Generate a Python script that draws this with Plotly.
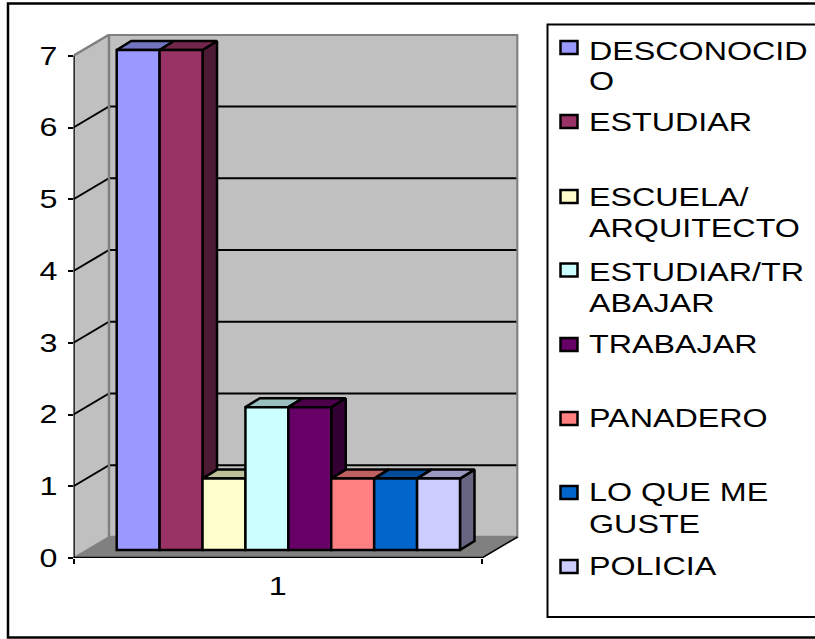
import plotly.graph_objects as go

# ---- data ----
categories = [1]
series_names = ["DESCONOCIDO", "ESTUDIAR", "ESCUELA/ ARQUITECTO", "ESTUDIAR/TRABAJAR",
                "TRABAJAR", "PANADERO", "LO QUE ME GUSTE", "POLICIA"]
series_values = [7, 7, 1, 2, 2, 1, 1, 1]
series_colors = ["#9999FF", "#993366", "#FFFFCC", "#CCFFFF", "#660066", "#FF8080", "#0066CC", "#CCCCFF"]
legend_lines = [["DESCONOCID", "O"], ["ESTUDIAR"], ["ESCUELA/", "ARQUITECTO"], ["ESTUDIAR/TR", "ABAJAR"],
                ["TRABAJAR"], ["PANADERO"], ["LO QUE ME", "GUSTE"], ["POLICIA"]]
y_ticks = [0, 1, 2, 3, 4, 5, 6, 7]

# ---- layout geometry (pixels) ----
W, H = 815, 639
LEFT, RIGHT, TOP, BOTTOM = 73.5, 518.5, 34.0, 558.0
X_SCALE = 408.5          # px per category unit
Y_SCALE = 71.75          # px per value unit, walls
BAR_Y_SCALE = 71.43      # px per value unit, bars
BAR_FLOOR = 550.0
BAR_CENTER = 288.35
WALL_DX, WALL_DY = 35.5 / X_SCALE, 21.0 / Y_SCALE
BAR_DX, BAR_DY = 14.5 / X_SCALE, 9.0 / BAR_Y_SCALE
FONT = "Liberation Sans, Arial, sans-serif"
FS = 25
GRAY, WALL, FLOOR = "#808080", "#C0C0C0", "#808080"

x_dom = [LEFT / W, RIGHT / W]
y_dom = [(H - BOTTOM) / H, (H - TOP) / H]
x_rng = [0.5, 0.5 + (RIGHT - LEFT) / X_SCALE]
y_rng = [0, (BOTTOM - TOP) / Y_SCALE]
bx0 = 1 - (BAR_CENTER - LEFT) / X_SCALE
bx_rng = [bx0, bx0 + (RIGHT - LEFT) / X_SCALE]
by_rng = [-(BOTTOM - BAR_FLOOR) / BAR_Y_SCALE, (BAR_FLOOR - TOP) / BAR_Y_SCALE]


def shade(hex_color, k):
    r, g, b = (int(hex_color[i:i + 2], 16) for i in (1, 3, 5))
    return "#%02X%02X%02X" % (round(r * k), round(g * k), round(b * k))


fig = go.Figure()
xl, xr = x_rng[0], 1.5
top = max(y_ticks)


def poly(xs, ys, fill, line="rgba(0,0,0,0)", width=0, xa="x", ya="y"):
    fig.add_trace(go.Scatter(x=xs, y=ys, mode="lines", fill="toself", fillcolor=fill,
                             line=dict(color=line, width=width), xaxis=xa, yaxis=ya,
                             hoverinfo="skip", showlegend=False))


def seg(xs, ys, color="black", width=2):
    fig.add_trace(go.Scatter(x=xs, y=ys, mode="lines", line=dict(color=color, width=width),
                             hoverinfo="skip", showlegend=False))


# walls and floor
poly([xl, xl + WALL_DX, xl + WALL_DX, xl], [0, WALL_DY, top + WALL_DY, top], WALL)
poly([xl + WALL_DX, xr + WALL_DX, xr + WALL_DX, xl + WALL_DX], [WALL_DY, WALL_DY, top + WALL_DY, top + WALL_DY], WALL)
poly([xl, xr, xr + WALL_DX, xl + WALL_DX], [0, 0, WALL_DY, WALL_DY], FLOOR)

# gridlines
for v in y_ticks[1:-1]:
    seg([xl, xl + WALL_DX, xr + WALL_DX], [v, v + WALL_DY, v + WALL_DY])

# wall edges
seg([xl, xl + WALL_DX, xr + WALL_DX, xr + WALL_DX, xl + WALL_DX, xl + WALL_DX],
    [top, top + WALL_DY, top + WALL_DY, WALL_DY, WALL_DY, top + WALL_DY], GRAY, 2.5)
seg([xr, xr + WALL_DX], [0, WALL_DY], "black", 1.5)
seg([xl, xl + WALL_DX], [0, WALL_DY], GRAY, 1.5)

# axis lines
seg([xl, xl], [0, top], "black", 2.5)
seg([xl, xr], [0, 0], "black", 2.5)

# 3D faces of the bars, left to right
n = len(series_values)
bw = (1 - 0.1596) / n
for i, (v, c) in enumerate(zip(series_values, series_colors)):
    a = 1 - (n * bw) / 2 + i * bw
    b = a + bw
    poly([b, b + BAR_DX, b + BAR_DX, b, b], [0, BAR_DY, v + BAR_DY, v, 0], shade(c, 0.5), "black", 2.5, "x2", "y2")
    poly([a, b, b + BAR_DX, a + BAR_DX, a], [v, v, v + BAR_DY, v + BAR_DY, v], shade(c, 0.75), "black", 2.5, "x2", "y2")

# front faces
for name, v, c in zip(series_names, series_values, series_colors):
    fig.add_trace(go.Bar(x=categories, y=[v], name=name, marker=dict(color=c, line=dict(color="black", width=2.5)),
                         xaxis="x3", yaxis="y3", showlegend=False))

# frames and legend
shapes = [
    dict(type="rect", xref="paper", yref="paper", x0=8 / W, x1=830 / W, y0=1 - 637.5 / H, y1=1 - 3.5 / H,
         line=dict(color="black", width=2.5), fillcolor="rgba(0,0,0,0)", layer="below"),
    dict(type="rect", xref="paper", yref="paper", x0=547.5 / W, x1=830 / W, y0=1 - 617 / H, y1=1 - 24.5 / H,
         line=dict(color="black", width=2), fillcolor="white", layer="below"),
]
LEG_X0, LEG_X1, LEG_TX = 560.5, 577.5, 586.5
leg_sq_y = [47.5, 121.5, 196.5, 270, 344.5, 418.5, 492.5, 566.5]
leg_txt_y = [[51.5, 81], [122], [197, 228], [272, 303], [344], [418], [492, 524], [566]]
anns = []
for lines, sy, tys, c in zip(legend_lines, leg_sq_y, leg_txt_y, series_colors):
    shapes.append(dict(type="rect", xref="paper", yref="paper", x0=LEG_X0 / W, x1=LEG_X1 / W,
                       y0=1 - (sy + 6.5) / H, y1=1 - (sy - 6.5) / H,
                       line=dict(color="black", width=2.5), fillcolor=c))
    for t, ty in zip(lines, tys):
        anns.append(dict(text=t, xref="paper", yref="paper", x=LEG_TX / W, y=1 - ty / H, xanchor="left",
                         yanchor="middle", showarrow=False, font=dict(family=FONT, size=FS, color="black")))

hidden = dict(visible=False, showgrid=False, zeroline=False, domain=x_dom)
hiddeny = dict(visible=False, showgrid=False, zeroline=False, domain=y_dom)
fig.update_layout(
    width=W, height=H, autosize=False, margin=dict(l=0, r=0, t=0, b=0, pad=0, autoexpand=False),
    paper_bgcolor="white", plot_bgcolor="rgba(0,0,0,0)", showlegend=False,
    barmode="group", bargap=0.1596, bargroupgap=0,
    xaxis=dict(domain=x_dom, range=x_rng, showgrid=False, zeroline=False, showline=False,
               tickmode="array", tickvals=categories, ticktext=[str(k) for k in categories], ticks="",
               ticklabelstandoff=11, tickfont=dict(family=FONT, size=FS, color="black"),
               minor=dict(tickmode="array", tickvals=[0.5, 1.5], ticks="outside", ticklen=5, tickwidth=2, tickcolor="black")),
    yaxis=dict(domain=y_dom, range=y_rng, showgrid=False, zeroline=False, showline=False,
               tickmode="array", tickvals=y_ticks, ticks="outside", ticklen=5, tickwidth=2, tickcolor="black",
               ticklabelstandoff=5, tickfont=dict(family=FONT, size=FS, color="black")),
    xaxis2=dict(overlaying="x", range=bx_rng, **hidden),
    yaxis2=dict(overlaying="y", range=by_rng, **hiddeny),
    xaxis3=dict(overlaying="x", range=bx_rng, **hidden),
    yaxis3=dict(overlaying="y", range=by_rng, **hiddeny),
    shapes=shapes, annotations=anns,
)

stretch = """
document.body.style.margin='0';
document.documentElement.style.overflow='hidden';
var K=1.29;
document.querySelectorAll('.annotation-text, .xtick text, .ytick text').forEach(function(t){
  var n=t.getComputedTextLength();
  if(n>0){
    t.setAttribute('lengthAdjust','spacingAndGlyphs');t.setAttribute('textLength',n*K);
    if(t.classList.contains('annotation-text')){
      t.setAttribute('x',parseFloat(t.getAttribute('x'))+n*(K-1)/2);
    }
  }
});
"""
fig.write_html("out.html", post_script=stretch, config={"displayModeBar": False})
